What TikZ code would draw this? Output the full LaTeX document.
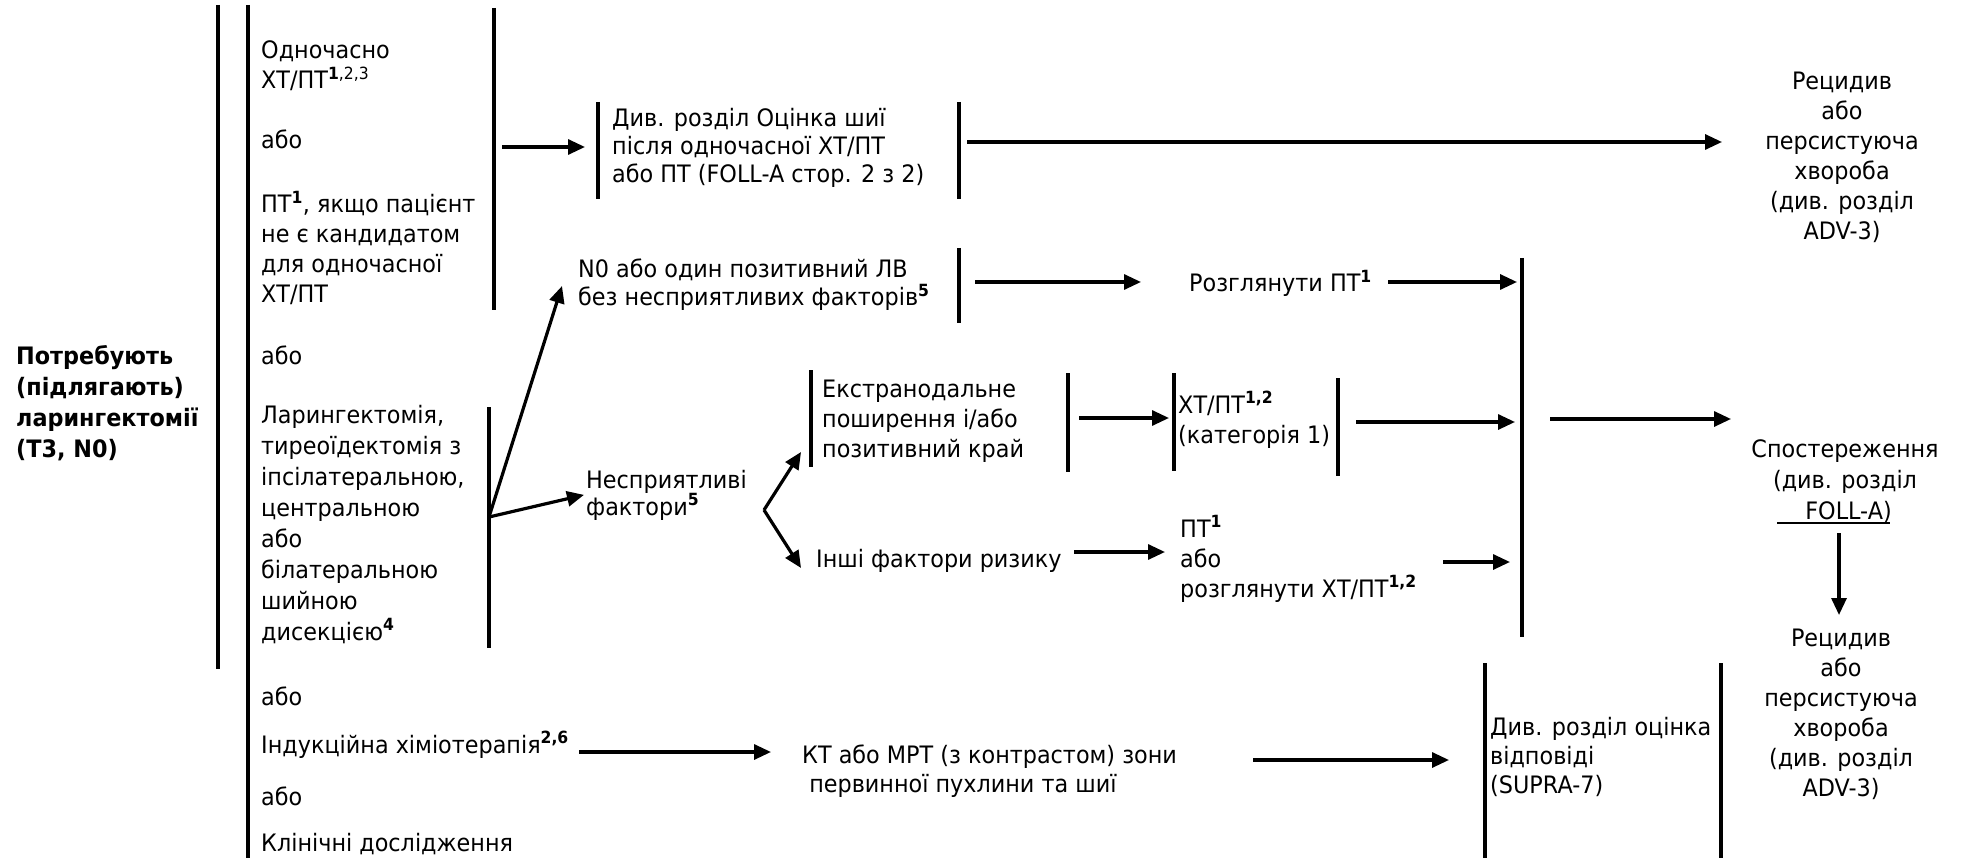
\documentclass[tikz,border=0pt]{standalone}
\usepackage{fontspec}
\setmainfont{DejaVu Sans}[FakeStretch=0.93]
\usetikzlibrary{arrows.meta}

\newcommand{\sps}[1]{\textsuperscript{\bfseries #1}}

\tikzset{
  txt/.style={inner sep=0pt, align=left, anchor=base west, font=\fontsize{24}{30}\selectfont},
  ctr/.style={txt, align=center, anchor=base},
  bar/.style={line width=3.5pt},
  arr/.style={line width=3.2pt, -{Triangle[length=17pt,width=15pt]}},
}

\begin{document}
\begin{tikzpicture}[x=1pt, y=-1pt]
  \useasboundingbox (0,0) rectangle (1964,858);

  % left column (y = baseline of the last line)
  \node[txt, font=\bfseries\fontsize{24}{31}\selectfont] (need) at (16,457) {Потребують\\(підлягають)\\ларингектомії\\(T3, N0)};
  \node[txt] (conc) at (261,89) {Одночасно\\ХТ/ПТ\textsuperscript{\textbf{1},2,3}};
  \node[txt] (or1) at (261,149) {або};
  \node[txt] (rtonly) at (261,303) {ПТ\sps{1}, якщо пацієнт\\не є кандидатом\\для одночасної\\ХТ/ПТ};
  \node[txt] (or2) at (261,364) {або};
  \node[txt, font=\fontsize{24}{31}\selectfont] (lar) at (261,640) {Ларингектомія,\\тиреоїдектомія з\\іпсілатеральною,\\центральною\\або\\білатеральною\\шийною\\дисекцією\sps{4}};
  \node[txt] (or3) at (261,705) {або};
  \node[txt] (ind) at (261,753) {Індукційна хіміотерапія\sps{2,6}};
  \node[txt] (or4) at (261,805) {або};
  \node[txt] (trial) at (261,851) {Клінічні дослідження};

  % middle
  \node[txt, font=\fontsize{24}{28}\selectfont] (neck) at (612,183) {Див. розділ Оцінка шиї\\після одночасної ХТ/ПТ\\або ПТ (FOLL-A стор. 2 з 2)};
  \node[txt, font=\fontsize{24}{28}\selectfont] (nzero) at (578,306) {N0 або один позитивний ЛВ\\без несприятливих факторів\sps{5}};
  \node[txt, font=\fontsize{24}{27}\selectfont] (adv) at (586,515) {Несприятливі\\фактори\sps{5}};
  \node[txt] (ene) at (822,457) {Екстранодальне\\поширення і/або\\позитивний край};
  \node[txt] (risk) at (816,567) {Інші фактори ризику};
  \node[txt, font=\fontsize{24}{29}\selectfont] (ct) at (802,792) {КТ або МРТ (з контрастом) зони\\\ первинної пухлини та шиї};

  % right
  \node[txt] (rtc) at (1189,292) {Розглянути ПТ\sps{1}};
  \node[txt] (crt) at (1178,443) {ХТ/ПТ\sps{1,2}\\(категорія 1)};
  \node[txt] (rtor) at (1180,597) {ПТ\sps{1}\\або\\розглянути ХТ/ПТ\sps{1,2}};
  \node[txt, font=\fontsize{24}{29}\selectfont] (resp) at (1490,793) {Див. розділ оцінка\\відповіді\\(SUPRA-7)};
  \node[ctr] (adva) at (1842,240) {Рецидив\\або\\персистуюча\\хвороба\\(див. розділ\\ADV-3)};
  \node[ctr, font=\fontsize{24}{31}\selectfont] (obs) at (1845,519) {Спостереження\\(див. розділ\\\ FOLL-A)};
  \node[ctr] (advb) at (1841,796) {Рецидив\\або\\персистуюча\\хвороба\\(див. розділ\\ADV-3)};
  \draw[line width=2.5pt] ([shift={(-68pt,-4pt)}]obs.base) -- ([shift={(45pt,-4pt)}]obs.base);

  % bars
  \foreach \x/\a/\b in {218/5/669, 248/5/858, 494/8/310, 598/102/199, 959/102/199,
      959/248/323, 489/407/648, 811/370/467, 1068/373/472, 1174/373/471,
      1338/378/476, 1522/258/637, 1485/663/858, 1721/663/858}
    \draw[bar] (\x,\a) -- (\x,\b);

  % arrow ends
  \coordinate (split) at (489,517);
  \coordinate (fork) at (764,510);
  \coordinate (c1) at (502,147);   \coordinate (c1t) at (585,147);
  \coordinate (c2) at (967,142);   \coordinate (c2t) at (1722,142);
  \coordinate (c3t) at (562,286);
  \coordinate (c4) at (975,282);   \coordinate (c4t) at (1141,282);
  \coordinate (c5) at (1388,282);  \coordinate (c5t) at (1517,282);
  \coordinate (c6t) at (801,452);  \coordinate (c7t) at (801,568);
  \coordinate (c8) at (1079,418);  \coordinate (c8t) at (1169,418);
  \coordinate (c9) at (1356,422);  \coordinate (c9t) at (1515,422);
  \coordinate (c10) at (1550,419); \coordinate (c10t) at (1731,419);
  \coordinate (c11) at (1074,552); \coordinate (c11t) at (1165,552);
  \coordinate (c12) at (1443,562); \coordinate (c12t) at (1510,562);
  \coordinate (c13) at (1839,533); \coordinate (c13t) at (1839,615);
  \coordinate (c14) at (579,752);  \coordinate (c14t) at (771,752);
  \coordinate (c15) at (1253,760); \coordinate (c15t) at (1449,760);

  \draw[arr] (c1) -- (c1t);
  \draw[arr] (c2) -- (c2t);
  \draw[arr] (split) -- (c3t);
  \draw[arr] (split) -- ([xshift=-2pt]adv.west);
  \draw[arr] (fork) -- (c6t);
  \draw[arr] (fork) -- (c7t);
  \foreach \s/\t in {c4/c4t, c5/c5t, c8/c8t, c9/c9t, c10/c10t, c11/c11t, c12/c12t, c13/c13t, c14/c14t, c15/c15t}
    \draw[arr] (\s) -- (\t);

\end{tikzpicture}
\end{document}
